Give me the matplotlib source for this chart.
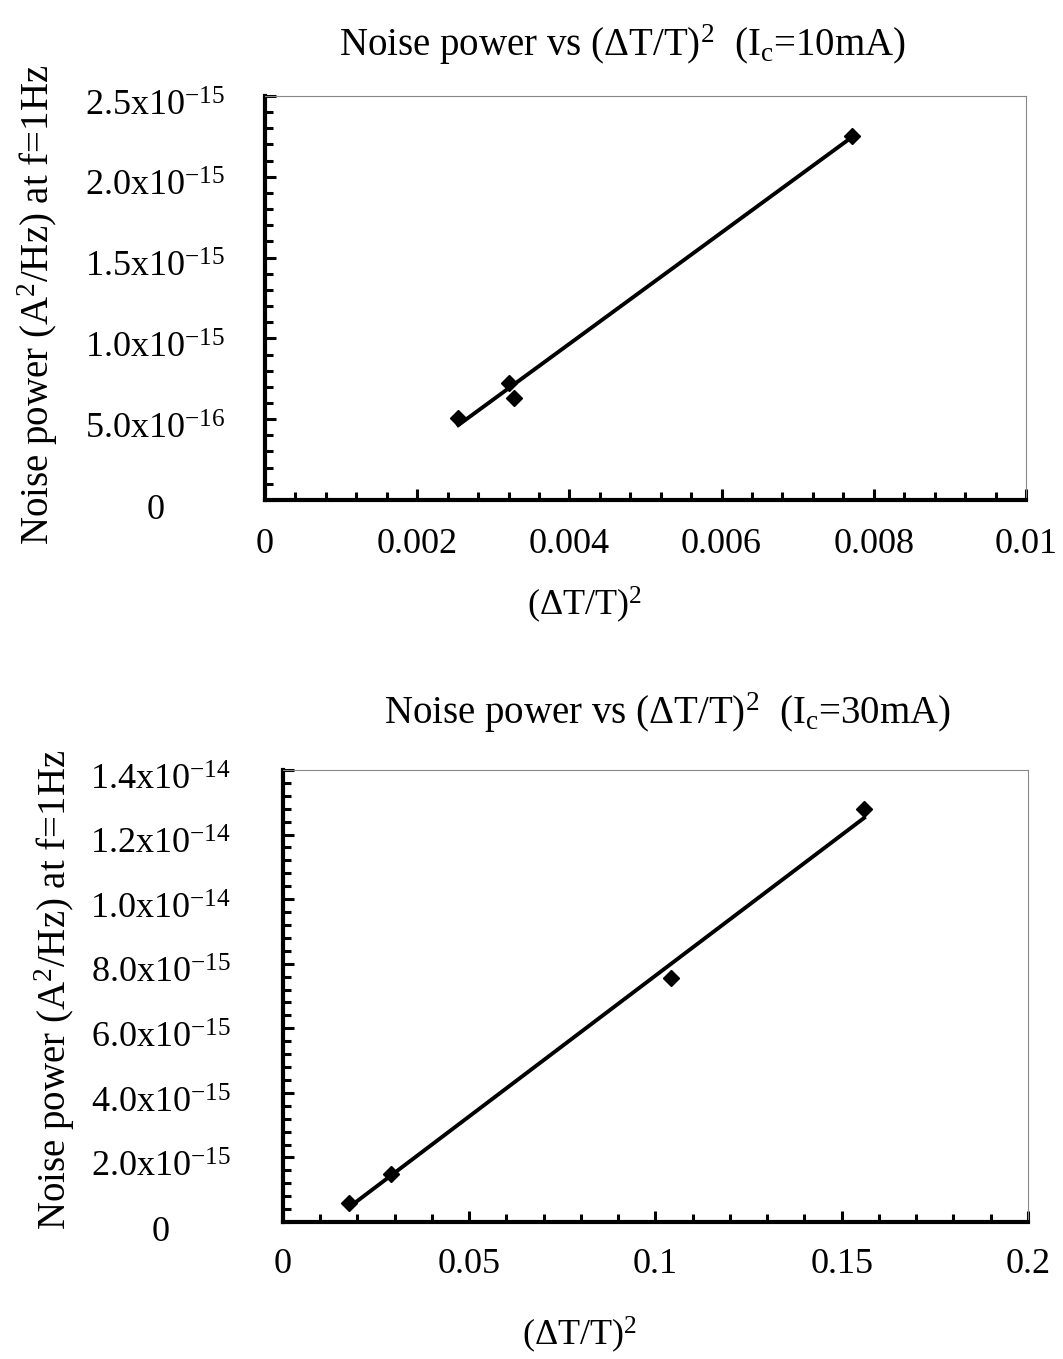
import numpy as np
import matplotlib
matplotlib.use("Agg")
import matplotlib.pyplot as plt
import matplotlib.transforms as mtransforms
from matplotlib.ticker import MultipleLocator

plt.rcParams['font.family'] = ['Liberation Serif', 'DejaVu Serif']
plt.rcParams['mathtext.fontset'] = 'custom'
plt.rcParams['mathtext.rm'] = 'Liberation Serif'
plt.rcParams['mathtext.it'] = 'Liberation Serif:italic'

# data
x_10mA = [0.00254, 0.00320, 0.00327, 0.00771]
y_10mA = [0.506e-15, 0.726e-15, 0.629e-15, 2.252e-15]

x_30mA = [0.0177, 0.0289, 0.1042, 0.1560]
y_30mA = [0.58e-15, 1.477e-15, 7.55e-15, 12.79e-15]

top_xticks = [0, 0.002, 0.004, 0.006, 0.008, 0.01]
top_xlabels = ['0', '0.002', '0.004', '0.006', '0.008', '0.01']
top_yticks = [0, 0.5e-15, 1.0e-15, 1.5e-15, 2.0e-15, 2.5e-15]
top_ylabels = ['0', r'5.0x10$^{-16}$', r'1.0x10$^{-15}$', r'1.5x10$^{-15}$',
               r'2.0x10$^{-15}$', r'2.5x10$^{-15}$']

bot_xticks = [0, 0.05, 0.1, 0.15, 0.2]
bot_xlabels = ['0', '0.05', '0.1', '0.15', '0.2']
bot_yticks = [0, 2e-15, 4e-15, 6e-15, 8e-15, 10e-15, 12e-15, 14e-15]
bot_ylabels = ['0', r'2.0x10$^{-15}$', r'4.0x10$^{-15}$', r'6.0x10$^{-15}$',
               r'8.0x10$^{-15}$', r'1.0x10$^{-14}$', r'1.2x10$^{-14}$', r'1.4x10$^{-14}$']

TICK_FS = 26
TITLE_FS = 28

fig = plt.figure(figsize=(10.63, 13.59), dpi=100)
ax1 = fig.add_axes([0.2493, 0.6321, 0.7159, 0.2973])
ax2 = fig.add_axes([0.2662, 0.1008, 0.7008, 0.3326])

# nudge y tick labels a little below their ticks, as in the scan
down = mtransforms.ScaledTranslation(0, -5 / 72, fig.dpi_scale_trans)


def style(ax, xt, xl, yt, yl, xminor, yminor, ypad, xpad):
    ax.set_xlim(xt[0], xt[-1])
    ax.set_ylim(yt[0], yt[-1])
    ax.set_xticks(xt)
    ax.set_xticklabels(xl, fontsize=TICK_FS)
    ax.set_yticks(yt)
    ax.set_yticklabels(yl, fontsize=TICK_FS)
    ax.xaxis.set_minor_locator(MultipleLocator(xminor))
    ax.yaxis.set_minor_locator(MultipleLocator(yminor))
    ax.tick_params(which='major', direction='in', length=8, width=2.2)
    ax.tick_params(which='minor', direction='in', length=5.5, width=2.2)
    ax.tick_params(axis='y', which='major', pad=ypad)
    ax.tick_params(axis='x', which='major', pad=xpad)
    for lab in ax.get_yticklabels():
        lab.set_ha('center')
        lab.set_transform(lab.get_transform() + down)
    for s in ['left', 'bottom']:
        ax.spines[s].set_linewidth(3)
    for s in ['top', 'right']:
        ax.spines[s].set_linewidth(0.8)
        ax.spines[s].set_color('#888888')


def draw(ax, x, y):
    k, b = np.polyfit(x, y, 1)
    xs = np.array([min(x), max(x)])
    ax.plot(xs, k * xs + b, color='black', lw=2.8)
    ax.plot(x, y, linestyle='none', marker='D', color='black', markersize=8)


draw(ax1, x_10mA, y_10mA)
style(ax1, top_xticks, top_xlabels, top_yticks, top_ylabels, 0.0004, 1e-16, 79, 20)

draw(ax2, x_30mA, y_30mA)
style(ax2, bot_xticks, bot_xlabels, bot_yticks, bot_ylabels, 0.01, 4e-16, 88, 19)

fig.text(0.585, 0.967, r'Noise power vs ($\Delta$T/T)$^2$  (I$_\mathrm{c}$=10mA)',
         ha='center', va='center', fontsize=TITLE_FS)
fig.text(0.6275, 0.4753, r'Noise power vs ($\Delta$T/T)$^2$  (I$_\mathrm{c}$=30mA)',
         ha='center', va='center', fontsize=TITLE_FS)
fig.text(0.5503, 0.555, r'($\Delta$T/T)$^2$', ha='center', va='center', fontsize=26)
fig.text(0.5456, 0.0177, r'($\Delta$T/T)$^2$', ha='center', va='center', fontsize=26)
fig.text(0.0357, 0.7756, r'Noise power (A$^2$/Hz) at f=1Hz', rotation=90,
         ha='center', va='center', fontsize=TITLE_FS)
fig.text(0.0517, 0.2715, r'Noise power (A$^2$/Hz) at f=1Hz', rotation=90,
         ha='center', va='center', fontsize=TITLE_FS)

fig.savefig('out.png', dpi=100)
